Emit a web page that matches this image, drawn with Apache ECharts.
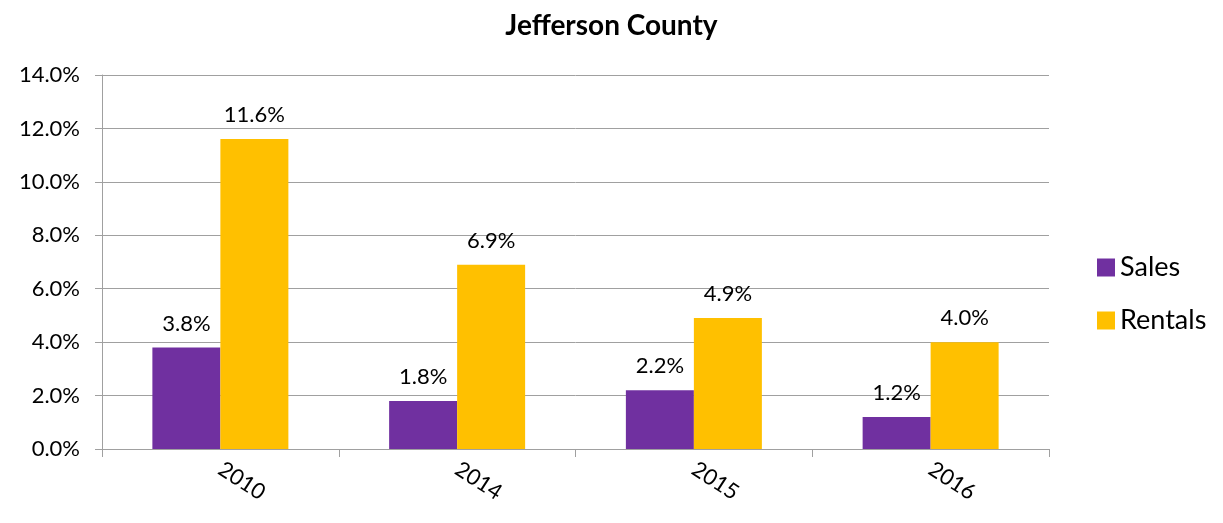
<!DOCTYPE html>
<html>
<head>
<meta charset="utf-8">
<script src="https://cdn.jsdelivr.net/npm/echarts@6/dist/echarts.min.js"></script>
<style>html,body{margin:0;padding:0;background:#fff}#c{width:1223px;height:523px}</style>
</head>
<body>
<div id="c"></div>
<script>
const categories = ['2010', '2014', '2015', '2016'];
const sales = [3.8, 1.8, 2.2, 1.2];
const rentals = [11.6, 6.9, 4.9, 4.0];
const yTicks = { min: 0, max: 14, interval: 2 };

const font = 'Lato, "Open Sans", sans-serif';
const chart = echarts.init(document.getElementById('c'));
const labelCfg = {
  show: true, position: 'top', distance: 13,
  fontFamily: font, fontSize: 22, color: '#000',
  formatter: p => p.value.toFixed(1) + '%'
};
chart.setOption({
  animation: false,
  title: {
    text: 'Jefferson County', left: 'center', top: 7,
    textStyle: { fontFamily: font, fontSize: 28, fontWeight: 'bold', color: '#000' }
  },
  legend: {
    orient: 'vertical', left: 1092, top: 249,
    itemWidth: 18, itemHeight: 18, itemGap: 26,
    icon: 'rect',
    textStyle: { fontFamily: font, fontSize: 27, color: '#000' },
    data: ['Sales', 'Rentals']
  },
  grid: { left: 102, right: 174, top: 75, bottom: 74, containLabel: false },
  xAxis: {
    type: 'category', data: categories,
    axisLine: { lineStyle: { color: '#a0a0a0' } },
    axisTick: { show: true, length: 8, lineStyle: { color: '#a0a0a0' } },
    axisLabel: { rotate: -33, margin: 18, fontFamily: font, fontSize: 22, color: '#000' }
  },
  yAxis: {
    type: 'value', min: yTicks.min, max: yTicks.max, interval: yTicks.interval,
    axisLine: { show: true, lineStyle: { color: '#a0a0a0' } },
    axisTick: { show: true, length: 7, lineStyle: { color: '#a0a0a0' } },
    splitLine: { lineStyle: { color: '#a0a0a0' } },
    axisLabel: { margin: 22, fontFamily: font, fontSize: 22, color: '#000', formatter: v => v.toFixed(1) + '%' }
  },
  series: [
    { name: 'Sales', type: 'bar', data: sales, barWidth: 68, barGap: '0%', itemStyle: { color: '#7030A0' }, label: labelCfg },
    { name: 'Rentals', type: 'bar', data: rentals, barWidth: 68, itemStyle: { color: '#FFC000' }, label: labelCfg }
  ]
});
</script>
</body>
</html>
